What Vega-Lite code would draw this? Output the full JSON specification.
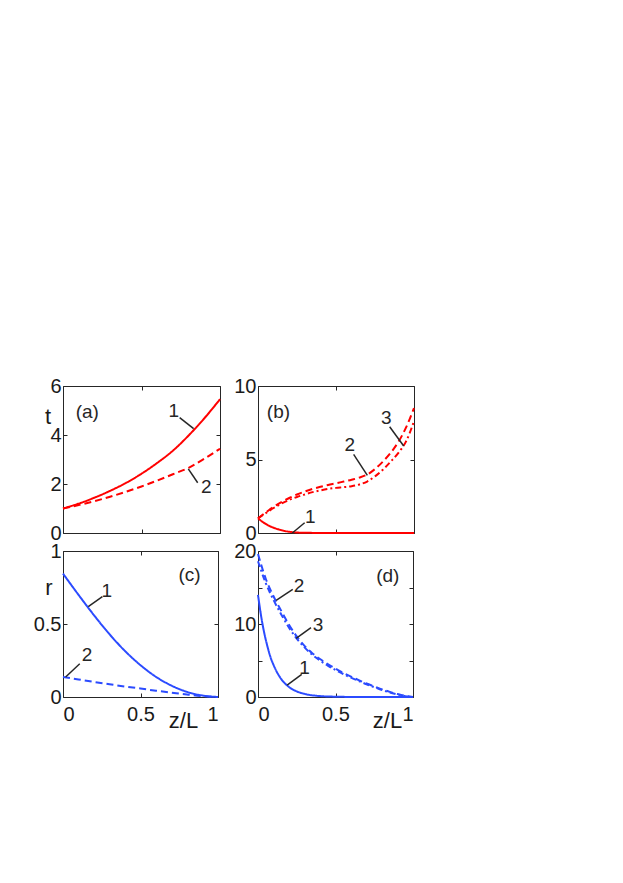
{
  "$schema": "https://vega.github.io/schema/vega-lite/v6.json",
  "background": "white",
  "padding": {"left": 32, "top": 375, "right": 10, "bottom": 10},
  "config": {
    "view": {"stroke": "#262626", "strokeWidth": 1},
    "axis": {"domain": false, "grid": false, "tickColor": "#262626", "tickSize": -4, "tickWidth": 1,
      "labelFont": "Liberation Sans", "labelFontSize": 20, "labelColor": "#1a1a1a",
      "titleFont": "Liberation Sans", "titleFontSize": 22, "titleFontWeight": "normal", "titleColor": "#1a1a1a"},
    "axisY": {"labelPadding": 6},
    "axisX": {"labelPadding": 11},
    "text": {"font": "Liberation Sans"}
  },
  "datasets": {
    "curves": [
      {"p":"a","s":"1","x":0,"y":1.0},{"p":"a","s":"1","x":0.1,"y":1.2},{"p":"a","s":"1","x":0.2,"y":1.44},{"p":"a","s":"1","x":0.3,"y":1.72},{"p":"a","s":"1","x":0.4,"y":2.04},{"p":"a","s":"1","x":0.5,"y":2.42},{"p":"a","s":"1","x":0.6,"y":2.86},{"p":"a","s":"1","x":0.7,"y":3.36},{"p":"a","s":"1","x":0.8,"y":3.98},{"p":"a","s":"1","x":0.9,"y":4.68},{"p":"a","s":"1","x":1.0,"y":5.46},
      {"p":"a","s":"2","x":0,"y":1.0},{"p":"a","s":"2","x":0.1,"y":1.14},{"p":"a","s":"2","x":0.2,"y":1.3},{"p":"a","s":"2","x":0.3,"y":1.48},{"p":"a","s":"2","x":0.4,"y":1.68},{"p":"a","s":"2","x":0.5,"y":1.9},{"p":"a","s":"2","x":0.6,"y":2.14},{"p":"a","s":"2","x":0.7,"y":2.4},{"p":"a","s":"2","x":0.8,"y":2.66},{"p":"a","s":"2","x":0.9,"y":3.03},{"p":"a","s":"2","x":1.0,"y":3.44},
      {"p":"b","s":"1","x":0,"y":1.0},{"p":"b","s":"1","x":0.03,"y":0.75},{"p":"b","s":"1","x":0.065,"y":0.52},{"p":"b","s":"1","x":0.1,"y":0.36},{"p":"b","s":"1","x":0.13,"y":0.25},{"p":"b","s":"1","x":0.17,"y":0.14},{"p":"b","s":"1","x":0.21,"y":0.07},{"p":"b","s":"1","x":0.25,"y":0.035},{"p":"b","s":"1","x":0.3,"y":0.015},{"p":"b","s":"1","x":0.4,"y":0.005},{"p":"b","s":"1","x":0.6,"y":0},{"p":"b","s":"1","x":0.8,"y":0},{"p":"b","s":"1","x":1.0,"y":0},
      {"p":"b","s":"2","x":0,"y":1.0},{"p":"b","s":"2","x":0.05,"y":1.4},{"p":"b","s":"2","x":0.1,"y":1.78},{"p":"b","s":"2","x":0.15,"y":2.1},{"p":"b","s":"2","x":0.2,"y":2.38},{"p":"b","s":"2","x":0.25,"y":2.62},{"p":"b","s":"2","x":0.3,"y":2.82},{"p":"b","s":"2","x":0.35,"y":3.0},{"p":"b","s":"2","x":0.4,"y":3.14},{"p":"b","s":"2","x":0.45,"y":3.27},{"p":"b","s":"2","x":0.5,"y":3.38},{"p":"b","s":"2","x":0.55,"y":3.5},{"p":"b","s":"2","x":0.6,"y":3.62},{"p":"b","s":"2","x":0.65,"y":3.77},{"p":"b","s":"2","x":0.7,"y":3.98},{"p":"b","s":"2","x":0.75,"y":4.35},{"p":"b","s":"2","x":0.8,"y":4.85},{"p":"b","s":"2","x":0.85,"y":5.45},{"p":"b","s":"2","x":0.9,"y":6.2},{"p":"b","s":"2","x":0.95,"y":7.2},{"p":"b","s":"2","x":1.0,"y":8.5},
      {"p":"b","s":"3","x":0,"y":1.0},{"p":"b","s":"3","x":0.05,"y":1.35},{"p":"b","s":"3","x":0.1,"y":1.7},{"p":"b","s":"3","x":0.15,"y":2.0},{"p":"b","s":"3","x":0.2,"y":2.25},{"p":"b","s":"3","x":0.25,"y":2.45},{"p":"b","s":"3","x":0.3,"y":2.62},{"p":"b","s":"3","x":0.35,"y":2.78},{"p":"b","s":"3","x":0.4,"y":2.9},{"p":"b","s":"3","x":0.45,"y":3.0},{"p":"b","s":"3","x":0.5,"y":3.07},{"p":"b","s":"3","x":0.55,"y":3.12},{"p":"b","s":"3","x":0.6,"y":3.18},{"p":"b","s":"3","x":0.65,"y":3.3},{"p":"b","s":"3","x":0.7,"y":3.5},{"p":"b","s":"3","x":0.75,"y":3.85},{"p":"b","s":"3","x":0.8,"y":4.3},{"p":"b","s":"3","x":0.85,"y":4.85},{"p":"b","s":"3","x":0.9,"y":5.45},{"p":"b","s":"3","x":0.95,"y":6.25},{"p":"b","s":"3","x":1.0,"y":7.6},
      {"p":"c","s":"1","x":0,"y":0.845},{"p":"c","s":"1","x":0.1,"y":0.7},{"p":"c","s":"1","x":0.2,"y":0.56},{"p":"c","s":"1","x":0.3,"y":0.43},{"p":"c","s":"1","x":0.4,"y":0.315},{"p":"c","s":"1","x":0.5,"y":0.218},{"p":"c","s":"1","x":0.6,"y":0.138},{"p":"c","s":"1","x":0.7,"y":0.078},{"p":"c","s":"1","x":0.8,"y":0.035},{"p":"c","s":"1","x":0.9,"y":0.01},{"p":"c","s":"1","x":1.0,"y":0.0},
      {"p":"c","s":"2","x":0,"y":0.137},{"p":"c","s":"2","x":0.1,"y":0.12},{"p":"c","s":"2","x":0.2,"y":0.103},{"p":"c","s":"2","x":0.3,"y":0.087},{"p":"c","s":"2","x":0.4,"y":0.072},{"p":"c","s":"2","x":0.5,"y":0.058},{"p":"c","s":"2","x":0.6,"y":0.043},{"p":"c","s":"2","x":0.7,"y":0.03},{"p":"c","s":"2","x":0.8,"y":0.017},{"p":"c","s":"2","x":0.9,"y":0.006},{"p":"c","s":"2","x":1.0,"y":0.0},
      {"p":"d","s":"1","x":0,"y":14},{"p":"d","s":"1","x":0.02,"y":11.1},{"p":"d","s":"1","x":0.04,"y":8.8},{"p":"d","s":"1","x":0.06,"y":7.0},{"p":"d","s":"1","x":0.08,"y":5.5},{"p":"d","s":"1","x":0.1,"y":4.4},{"p":"d","s":"1","x":0.12,"y":3.5},{"p":"d","s":"1","x":0.15,"y":2.45},{"p":"d","s":"1","x":0.2,"y":1.37},{"p":"d","s":"1","x":0.25,"y":0.77},{"p":"d","s":"1","x":0.3,"y":0.43},{"p":"d","s":"1","x":0.4,"y":0.13},{"p":"d","s":"1","x":0.5,"y":0.04},{"p":"d","s":"1","x":0.6,"y":0.01},{"p":"d","s":"1","x":0.8,"y":0},{"p":"d","s":"1","x":1.0,"y":0},
      {"p":"d","s":"2","x":0,"y":19.6},{"p":"d","s":"2","x":0.05,"y":16.2},{"p":"d","s":"2","x":0.1,"y":13.8},{"p":"d","s":"2","x":0.15,"y":11.8},{"p":"d","s":"2","x":0.2,"y":9.9},{"p":"d","s":"2","x":0.25,"y":8.3},{"p":"d","s":"2","x":0.3,"y":7.0},{"p":"d","s":"2","x":0.35,"y":6.0},{"p":"d","s":"2","x":0.4,"y":5.2},{"p":"d","s":"2","x":0.45,"y":4.5},{"p":"d","s":"2","x":0.5,"y":3.9},{"p":"d","s":"2","x":0.55,"y":3.3},{"p":"d","s":"2","x":0.6,"y":2.8},{"p":"d","s":"2","x":0.65,"y":2.3},{"p":"d","s":"2","x":0.7,"y":1.85},{"p":"d","s":"2","x":0.75,"y":1.45},{"p":"d","s":"2","x":0.8,"y":1.05},{"p":"d","s":"2","x":0.85,"y":0.7},{"p":"d","s":"2","x":0.9,"y":0.4},{"p":"d","s":"2","x":0.95,"y":0.15},{"p":"d","s":"2","x":1.0,"y":0.0},
      {"p":"d","s":"3","x":0,"y":18.6},{"p":"d","s":"3","x":0.05,"y":15.6},{"p":"d","s":"3","x":0.1,"y":13.3},{"p":"d","s":"3","x":0.15,"y":11.3},{"p":"d","s":"3","x":0.2,"y":9.5},{"p":"d","s":"3","x":0.25,"y":8.0},{"p":"d","s":"3","x":0.3,"y":6.8},{"p":"d","s":"3","x":0.35,"y":5.8},{"p":"d","s":"3","x":0.4,"y":5.0},{"p":"d","s":"3","x":0.45,"y":4.3},{"p":"d","s":"3","x":0.5,"y":3.7},{"p":"d","s":"3","x":0.55,"y":3.15},{"p":"d","s":"3","x":0.6,"y":2.65},{"p":"d","s":"3","x":0.65,"y":2.2},{"p":"d","s":"3","x":0.7,"y":1.75},{"p":"d","s":"3","x":0.75,"y":1.35},{"p":"d","s":"3","x":0.8,"y":0.95},{"p":"d","s":"3","x":0.85,"y":0.62},{"p":"d","s":"3","x":0.9,"y":0.35},{"p":"d","s":"3","x":0.95,"y":0.12},{"p":"d","s":"3","x":1.0,"y":0.0}
    ],
    "leaders": [
      {"p":"a","x":0.743,"y":4.71,"x2":0.832,"y2":4.26},
      {"p":"a","x":0.798,"y":2.62,"x2":0.858,"y2":2.05},
      {"p":"b","x":0.299,"y":0.70,"x2":0.22,"y2":0.0},
      {"p":"b","x":0.613,"y":5.35,"x2":0.701,"y2":3.92},
      {"p":"b","x":0.844,"y":7.23,"x2":0.934,"y2":5.92},
      {"p":"c","x":0.254,"y":0.687,"x2":0.163,"y2":0.619},
      {"p":"c","x":0.108,"y":0.228,"x2":0.017,"y2":0.137},
      {"p":"d","x":0.224,"y":14.75,"x2":0.117,"y2":13.24},
      {"p":"d","x":0.342,"y":9.5,"x2":0.246,"y2":8.04},
      {"p":"d","x":0.282,"y":3.1,"x2":0.188,"y2":1.64}
    ],
    "labels": [
      {"p":"a","x":0.155,"y":4.92,"t":"(a)"},
      {"p":"a","x":0.705,"y":4.98,"t":"1"},
      {"p":"a","x":0.913,"y":1.89,"t":"2"},
      {"p":"b","x":0.131,"y":8.2,"t":"(b)"},
      {"p":"b","x":0.335,"y":1.11,"t":"1"},
      {"p":"b","x":0.588,"y":5.96,"t":"2"},
      {"p":"b","x":0.823,"y":7.8,"t":"3"},
      {"p":"c","x":0.816,"y":0.836,"t":"(c)"},
      {"p":"c","x":0.282,"y":0.726,"t":"1"},
      {"p":"c","x":0.155,"y":0.288,"t":"2"},
      {"p":"d","x":0.837,"y":16.6,"t":"(d)"},
      {"p":"d","x":0.265,"y":15.2,"t":"2"},
      {"p":"d","x":0.387,"y":9.86,"t":"3"},
      {"p":"d","x":0.301,"y":3.93,"t":"1"}
    ]
  },
  "columns": 2,
  "spacing": {"row": 18, "column": 38},
  "bounds": "flush",
  "concat": [
    {
      "width": 157, "height": 147,
      "layer": [
        {"data": {"name": "curves"}, "transform": [{"filter": "datum.p === 'a'"}],
          "mark": {"type": "line", "color": "#ff0000", "strokeWidth": 2, "interpolate": "monotone"},
          "encoding": {
            "x": {"field": "x", "type": "quantitative", "scale": {"domain": [0, 1], "nice": false}, "axis": {"values": [0, 0.5, 1], "labels": false, "title": null}},
            "y": {"field": "y", "type": "quantitative", "scale": {"domain": [0, 6], "nice": false}, "axis": {"values": [0, 2, 4, 6], "title": "t", "titleAngle": 0, "titleX": -15.5, "titleY": 37, "titleAlign": "center", "titleBaseline": "alphabetic"}},
            "strokeDash": {"field": "s", "type": "nominal", "scale": {"domain": ["1", "2", "3"], "range": [[1, 0], [7, 4], [6, 3, 2, 3]]}, "legend": null}
          }},
        {"data": {"name": "leaders"}, "transform": [{"filter": "datum.p === 'a'"}],
          "mark": {"type": "rule", "color": "#262626", "strokeWidth": 1.5},
          "encoding": {"x": {"field": "x", "type": "quantitative", "axis": null}, "y": {"field": "y", "type": "quantitative", "axis": null}, "x2": {"field": "x2"}, "y2": {"field": "y2"}}},
        {"data": {"name": "labels"}, "transform": [{"filter": "datum.p === 'a'"}],
          "mark": {"type": "text", "fontSize": 19, "color": "#262626", "align": "center", "baseline": "middle"},
          "encoding": {"x": {"field": "x", "type": "quantitative", "axis": {"orient": "top", "values": [0, 0.5, 1], "labels": false, "title": null}}, "y": {"field": "y", "type": "quantitative", "axis": {"orient": "right", "values": [0, 2, 4, 6], "labels": false, "title": null}}, "text": {"field": "t"}}}
      ],
      "resolve": {"axis": {"x": "independent", "y": "independent"}}
    },
    {
      "width": 156, "height": 147,
      "layer": [
        {"data": {"name": "curves"}, "transform": [{"filter": "datum.p === 'b'"}],
          "mark": {"type": "line", "color": "#ff0000", "strokeWidth": 2, "interpolate": "monotone"},
          "encoding": {
            "x": {"field": "x", "type": "quantitative", "scale": {"domain": [0, 1], "nice": false}, "axis": {"values": [0, 0.5, 1], "labels": false, "title": null}},
            "y": {"field": "y", "type": "quantitative", "scale": {"domain": [0, 10], "nice": false}, "axis": {"values": [0, 5, 10], "title": null}},
            "strokeDash": {"field": "s", "type": "nominal", "scale": {"domain": ["1", "2", "3"], "range": [[1, 0], [7, 4], [6, 3, 2, 3]]}, "legend": null}
          }},
        {"data": {"name": "leaders"}, "transform": [{"filter": "datum.p === 'b'"}],
          "mark": {"type": "rule", "color": "#262626", "strokeWidth": 1.5},
          "encoding": {"x": {"field": "x", "type": "quantitative", "axis": null}, "y": {"field": "y", "type": "quantitative", "axis": null}, "x2": {"field": "x2"}, "y2": {"field": "y2"}}},
        {"data": {"name": "labels"}, "transform": [{"filter": "datum.p === 'b'"}],
          "mark": {"type": "text", "fontSize": 19, "color": "#262626", "align": "center", "baseline": "middle"},
          "encoding": {"x": {"field": "x", "type": "quantitative", "axis": {"orient": "top", "values": [0, 0.5, 1], "labels": false, "title": null}}, "y": {"field": "y", "type": "quantitative", "axis": {"orient": "right", "values": [0, 5, 10], "labels": false, "title": null}}, "text": {"field": "t"}}}
      ],
      "resolve": {"axis": {"x": "independent", "y": "independent"}}
    },
    {
      "width": 155, "height": 146,
      "layer": [
        {"data": {"name": "curves"}, "transform": [{"filter": "datum.p === 'c'"}],
          "mark": {"type": "line", "color": "#2b4bff", "strokeWidth": 2, "interpolate": "monotone"},
          "encoding": {
            "x": {"field": "x", "type": "quantitative", "scale": {"domain": [0, 1], "nice": false}, "axis": {"values": [0, 0.5, 1], "format": "~g", "title": "z/L", "titleX": 120, "titleY": 30, "titleAlign": "center", "titleBaseline": "alphabetic"}},
            "y": {"field": "y", "type": "quantitative", "scale": {"domain": [0, 1], "nice": false}, "axis": {"values": [0, 0.5, 1], "format": "~g", "title": "r", "titleAngle": 0, "titleX": -14.5, "titleY": 43, "titleAlign": "center", "titleBaseline": "alphabetic"}},
            "strokeDash": {"field": "s", "type": "nominal", "scale": {"domain": ["1", "2", "3"], "range": [[1, 0], [7, 4], [6, 3, 2, 3]]}, "legend": null}
          }},
        {"data": {"name": "leaders"}, "transform": [{"filter": "datum.p === 'c'"}],
          "mark": {"type": "rule", "color": "#262626", "strokeWidth": 1.5},
          "encoding": {"x": {"field": "x", "type": "quantitative", "axis": null}, "y": {"field": "y", "type": "quantitative", "axis": null}, "x2": {"field": "x2"}, "y2": {"field": "y2"}}},
        {"data": {"name": "labels"}, "transform": [{"filter": "datum.p === 'c'"}],
          "mark": {"type": "text", "fontSize": 19, "color": "#262626", "align": "center", "baseline": "middle"},
          "encoding": {"x": {"field": "x", "type": "quantitative", "axis": {"orient": "top", "values": [0, 0.5, 1], "labels": false, "title": null}}, "y": {"field": "y", "type": "quantitative", "axis": {"orient": "right", "values": [0, 0.5, 1], "labels": false, "title": null}}, "text": {"field": "t"}}}
      ],
      "resolve": {"axis": {"x": "independent", "y": "independent"}}
    },
    {
      "width": 155, "height": 146,
      "layer": [
        {"data": {"name": "curves"}, "transform": [{"filter": "datum.p === 'd'"}],
          "mark": {"type": "line", "color": "#2b4bff", "strokeWidth": 2, "interpolate": "monotone"},
          "encoding": {
            "x": {"field": "x", "type": "quantitative", "scale": {"domain": [0, 1], "nice": false}, "axis": {"values": [0, 0.5, 1], "format": "~g", "title": "z/L", "titleX": 129, "titleY": 30, "titleAlign": "center", "titleBaseline": "alphabetic"}},
            "y": {"field": "y", "type": "quantitative", "scale": {"domain": [0, 20], "nice": false}, "axis": {"values": [0, 5, 10, 15, 20], "labelExpr": "datum.value % 10 === 0 ? datum.label : ''", "title": null}},
            "strokeDash": {"field": "s", "type": "nominal", "scale": {"domain": ["1", "2", "3"], "range": [[1, 0], [7, 4], [6, 3, 2, 3]]}, "legend": null}
          }},
        {"data": {"name": "leaders"}, "transform": [{"filter": "datum.p === 'd'"}],
          "mark": {"type": "rule", "color": "#262626", "strokeWidth": 1.5},
          "encoding": {"x": {"field": "x", "type": "quantitative", "axis": null}, "y": {"field": "y", "type": "quantitative", "axis": null}, "x2": {"field": "x2"}, "y2": {"field": "y2"}}},
        {"data": {"name": "labels"}, "transform": [{"filter": "datum.p === 'd'"}],
          "mark": {"type": "text", "fontSize": 19, "color": "#262626", "align": "center", "baseline": "middle"},
          "encoding": {"x": {"field": "x", "type": "quantitative", "axis": {"orient": "top", "values": [0, 0.5, 1], "labels": false, "title": null}}, "y": {"field": "y", "type": "quantitative", "axis": {"orient": "right", "values": [0, 5, 10, 15, 20], "labels": false, "title": null}}, "text": {"field": "t"}}}
      ],
      "resolve": {"axis": {"x": "independent", "y": "independent"}}
    }
  ]
}
